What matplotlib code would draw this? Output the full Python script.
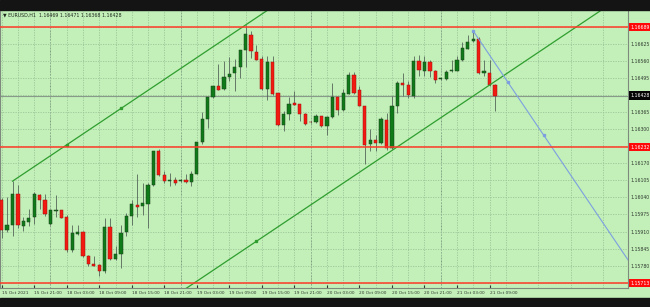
import matplotlib
matplotlib.use('Agg')
import matplotlib.pyplot as plt
from matplotlib.patches import Rectangle
from matplotlib.transforms import blended_transform_factory

# EURUSD H1 candles (bar 0 = 15 Oct 15:00)
opens = [1.16030, 1.15916, 1.15935, 1.16053, 1.15931, 1.15946, 1.15965, 1.16049, 1.16030, 1.15938,
         1.15988, 1.15992, 1.15965, 1.15840, 1.15900, 1.15908, 1.15817, 1.15786, 1.15782, 1.15759,
         1.15927, 1.15805, 1.15824, 1.15908, 1.15969, 1.16011, 1.16007, 1.16015, 1.16087, 1.16217,
         1.16125, 1.16102, 1.16106, 1.16102, 1.16106, 1.16098, 1.16129, 1.16251, 1.16338, 1.16422,
         1.16464, 1.16453, 1.16498, 1.16514, 1.16537, 1.16601, 1.16659, 1.16594, 1.16567, 1.16453,
         1.16556, 1.16437, 1.16316, 1.16358, 1.16399, 1.16396, 1.16358, 1.16327, 1.16327, 1.16350,
         1.16312, 1.16346, 1.16422, 1.16373, 1.16434, 1.16506, 1.16449, 1.16388, 1.16243, 1.16258,
         1.16247, 1.16335, 1.16228, 1.16388, 1.16476, 1.16468, 1.16426, 1.16559, 1.16521, 1.16556,
         1.16521, 1.16491, 1.16491, 1.16521, 1.16521, 1.16563, 1.16605, 1.16636, 1.16643, 1.16514,
         1.16514, 1.16469]
highs = [1.16037, 1.16041, 1.16102, 1.16087, 1.15965, 1.15996, 1.16060, 1.16053, 1.16053, 1.15992,
         1.16049, 1.15992, 1.15973, 1.15935, 1.15935, 1.15912, 1.15820, 1.15817, 1.15786, 1.15961,
         1.15961, 1.15855, 1.15935, 1.15980, 1.16030, 1.16129, 1.16095, 1.16095, 1.16217, 1.16224,
         1.16140, 1.16133, 1.16117, 1.16110, 1.16129, 1.16140, 1.16251, 1.16365, 1.16422, 1.16464,
         1.16548, 1.16559, 1.16575, 1.16567, 1.16601, 1.16697, 1.16674, 1.16620, 1.16579, 1.16579,
         1.16579, 1.16437, 1.16369, 1.16422, 1.16445, 1.16396, 1.16361, 1.16331, 1.16358, 1.16350,
         1.16350, 1.16476, 1.16422, 1.16453, 1.16518, 1.16518, 1.16464, 1.16388, 1.16300, 1.16278,
         1.16346, 1.16361, 1.16426, 1.16483, 1.16514, 1.16483, 1.16579, 1.16582, 1.16579, 1.16563,
         1.16525, 1.16495, 1.16525, 1.16563, 1.16579, 1.16632, 1.16659, 1.16674, 1.16651, 1.16563,
         1.16563, 1.16471]
lows = [1.15885, 1.15908, 1.15893, 1.15923, 1.15912, 1.15931, 1.15938, 1.15996, 1.15969, 1.15935,
        1.15965, 1.15961, 1.15832, 1.15832, 1.15897, 1.15813, 1.15778, 1.15778, 1.15740, 1.15752,
        1.15801, 1.15801, 1.15771, 1.15893, 1.15935, 1.15965, 1.15973, 1.15923, 1.16083, 1.16121,
        1.16095, 1.16083, 1.16087, 1.16098, 1.16095, 1.16083, 1.16129, 1.16243, 1.16304, 1.16418,
        1.16449, 1.16449, 1.16483, 1.16445, 1.16495, 1.16537, 1.16571, 1.16563, 1.16449, 1.16411,
        1.16430, 1.16312, 1.16293, 1.16335, 1.16392, 1.16331, 1.16316, 1.16323, 1.16323, 1.16308,
        1.16278, 1.16342, 1.16354, 1.16369, 1.16434, 1.16434, 1.16388, 1.16167, 1.16217, 1.16217,
        1.16243, 1.16220, 1.16224, 1.16361, 1.16426, 1.16418, 1.16418, 1.16502, 1.16502, 1.16498,
        1.16476, 1.16487, 1.16487, 1.16518, 1.16521, 1.16559, 1.16605, 1.16632, 1.16510, 1.16502,
        1.16464, 1.16368]
closes = [1.15916, 1.15935, 1.16053, 1.15935, 1.15950, 1.15961, 1.16053, 1.16030, 1.15977, 1.15992,
          1.15992, 1.15961, 1.15840, 1.15904, 1.15908, 1.15817, 1.15786, 1.15778, 1.15759, 1.15927,
          1.15805, 1.15824, 1.15904, 1.15969, 1.16015, 1.16003, 1.16018, 1.16087, 1.16217, 1.16125,
          1.16102, 1.16106, 1.16095, 1.16106, 1.16098, 1.16129, 1.16251, 1.16338, 1.16422, 1.16464,
          1.16449, 1.16498, 1.16510, 1.16537, 1.16601, 1.16662, 1.16598, 1.16563, 1.16453, 1.16556,
          1.16434, 1.16316, 1.16358, 1.16396, 1.16392, 1.16358, 1.16319, 1.16326, 1.16350, 1.16312,
          1.16346, 1.16422, 1.16373, 1.16437, 1.16506, 1.16437, 1.16388, 1.16239, 1.16258, 1.16247,
          1.16338, 1.16228, 1.16388, 1.16476, 1.16468, 1.16430, 1.16559, 1.16525, 1.16556, 1.16521,
          1.16487, 1.16495, 1.16518, 1.16525, 1.16563, 1.16609, 1.16632, 1.16643, 1.16514, 1.16521,
          1.16468, 1.16428]

time_bars = [0, 6, 12, 18, 24, 30, 36, 42, 48, 54, 60, 66, 72, 78, 84, 90]
time_labels = ['15 Oct 2021', '15 Oct 21:00', '18 Oct 03:00', '18 Oct 09:00', '18 Oct 15:00',
               '18 Oct 21:00', '19 Oct 03:00', '19 Oct 09:00', '19 Oct 15:00', '19 Oct 21:00',
               '20 Oct 03:00', '20 Oct 09:00', '20 Oct 15:00', '20 Oct 21:00', '21 Oct 03:00',
               '21 Oct 09:00']
day_breaks = [9, 33, 57, 81]

price_levels = [1.15715, 1.15780, 1.15845, 1.15910, 1.15975, 1.16040, 1.16105, 1.16170,
                1.16235, 1.16300, 1.16365, 1.16430, 1.16495, 1.16560, 1.16625, 1.16690]
red_levels = [1.16689, 1.16232, 1.15713]
bid = 1.16428

# trend channel (upper line anchors, one point on the parallel line)
chan_bars = [2, 45]
chan_prices = [1.16102, 1.16697]
chan_par_bar, chan_par_price = 47, 1.15873
chan_dots = [(12, 1.16240), (22, 1.16379), (47, 1.15873)]
# blue down line
blue_bars = [87, 100]
blue_prices = [1.16674, 1.16277]
blue_dots = [(87, 1.16674), (93.5, 1.16478), (100, 1.16277)]

BG = '#c2f0b8'
GREEN = '#0e7a18'
RED = '#f21a10'
LINE_RED = '#ff3a28'

fig = plt.figure(figsize=(6.5, 3.07), dpi=100, facecolor=BG)
fig.patches.append(Rectangle((0, 1 - 10 / 307), 1, 10 / 307, transform=fig.transFigure,
                             color='#141414', zorder=0))
fig.patches.append(Rectangle((0, 0), 1, 9 / 307, transform=fig.transFigure,
                             color='#141414', zorder=0))

ax = fig.add_axes([0, 19 / 307, 628 / 650, 278 / 307], facecolor=BG)
ax.set_xlim(-0.31, 115.55)
ax.set_ylim(1.15695, 1.16754)

# grid
ax.set_yticks(price_levels, ['%.5f' % p for p in price_levels])
ax.set_xticks(time_bars, time_labels)
ax.set_xticks(range(3, 115, 6), minor=True)
ax.grid(True, which='both', color='#9cc49a', linestyle=(0, (1.5, 1.5)), linewidth=0.6)
for b in day_breaks:
    ax.axvline(b, color='#7f9a7f', linestyle=(0, (1.5, 1.5)), linewidth=0.7, zorder=1)

ax.yaxis.tick_right()
ax.tick_params(axis='y', length=0, pad=2, labelsize=3.3, colors='#303830')
ax.tick_params(axis='x', which='major', direction='in', length=2, pad=2.2,
               labelsize=3.1, colors='#303830')
ax.tick_params(axis='x', which='minor', length=0)
for lab in ax.get_xticklabels():
    lab.set_ha('left')
for s in ax.spines.values():
    s.set_color('#7d8a7d')
    s.set_linewidth(0.8)
ax.spines['top'].set_visible(False)

# horizontal levels
for lv in red_levels:
    ax.axhline(lv, color=LINE_RED, linewidth=1.1, zorder=6)
ax.axhline(bid, color='#8a9a8a', linewidth=0.8, zorder=2)

# candles
for i in range(len(opens)):
    o, h, l, c = opens[i], highs[i], lows[i], closes[i]
    up = c >= o
    ax.vlines(i, l, h, color='#55665a', linewidth=0.6, zorder=3)
    ax.bar(i, c - o, bottom=o, width=0.6, color=GREEN if up else RED,
           edgecolor='#1c3d1c' if up else '#a01010', linewidth=0.35, zorder=4)

# channel lines as rays to the right
slope = (chan_prices[1] - chan_prices[0]) / (chan_bars[1] - chan_bars[0])
x_end = 120
ax.plot([chan_bars[0], x_end], [chan_prices[0], chan_prices[0] + slope * (x_end - chan_bars[0])],
        color='#2f9e2f', linewidth=0.9, zorder=5)
ax.plot([chan_bars[0], x_end],
        [chan_par_price + slope * (chan_bars[0] - chan_par_bar),
         chan_par_price + slope * (x_end - chan_par_bar)],
        color='#2f9e2f', linewidth=0.9, zorder=5)
ax.plot([d[0] for d in chan_dots], [d[1] for d in chan_dots], 's', color='#2f9e2f',
        markersize=1.4, zorder=5)

bslope = (blue_prices[1] - blue_prices[0]) / (blue_bars[1] - blue_bars[0])
ax.plot([blue_bars[0], x_end], [blue_prices[0], blue_prices[0] + bslope * (x_end - blue_bars[0])],
        color='#7d9fe0', linewidth=0.8, zorder=5)
ax.plot([d[0] for d in blue_dots], [d[1] for d in blue_dots], 's', color='#7d9fe0',
        markersize=1.4, zorder=5)

# boxed price labels on the right
tr = blended_transform_factory(ax.transAxes, ax.transData)
for lv in red_levels:
    ax.text(1.004, lv, '%.5f' % lv, transform=tr, ha='left', va='center', fontsize=3.3,
            color='white', clip_on=False, zorder=10,
            bbox=dict(boxstyle='square,pad=0.35', fc='#ff0a0a', ec='none'))
ax.text(1.004, bid, '%.5f' % bid, transform=tr, ha='left', va='center', fontsize=3.3,
        color='white', clip_on=False, zorder=10,
        bbox=dict(boxstyle='square,pad=0.35', fc='#050505', ec='none'))

fig.text(3 / 650, 1 - 14.5 / 307, '\u25bc EURUSD,H1  1.16469 1.16471 1.16368 1.16428',
         fontsize=3.4, color='#202820', va='center', ha='left')

fig.savefig('out.png', dpi=100, facecolor=BG)
